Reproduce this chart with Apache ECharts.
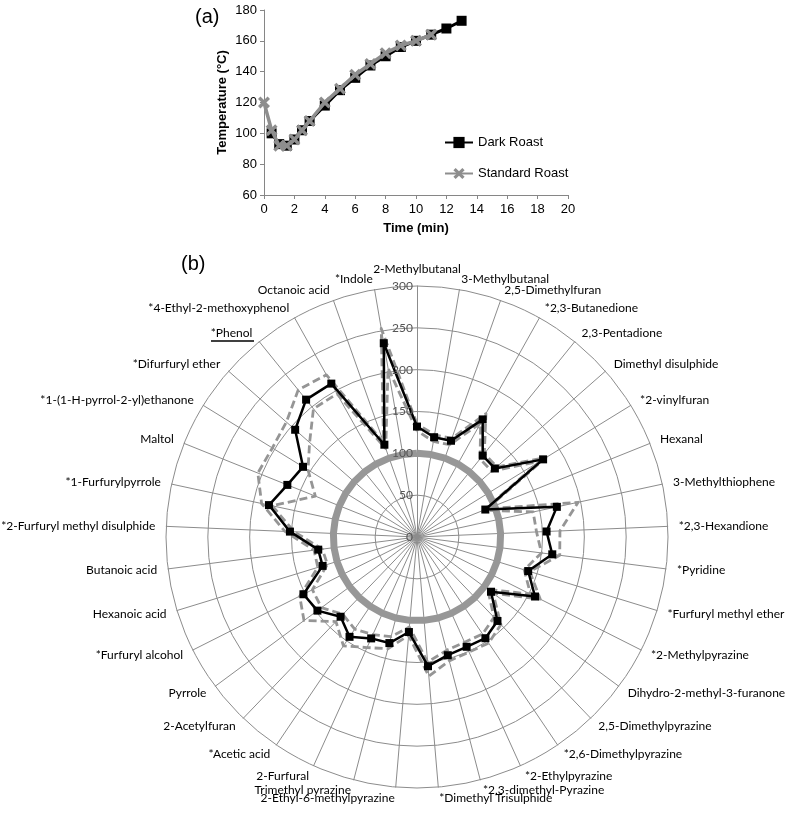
<!DOCTYPE html>
<html>
<head>
<meta charset="utf-8">
<script src="https://cdn.jsdelivr.net/npm/echarts@6/dist/echarts.min.js"></script>
<style>
html,body{margin:0;padding:0;background:#fff;}
#chart{width:785px;height:816px;}
</style>
</head>
<body>
<div id="chart"></div>
<script>
// ---- Panel (a): roasting temperature profiles ----
const darkTimes = [0.5, 1, 1.5, 2, 2.5, 3, 4, 5, 6, 7, 8, 9, 10, 11, 12, 13];
const darkTemps = [100, 93, 92, 96, 102, 108, 118, 128, 136, 144, 150, 156, 160, 164, 168, 173];
const stdTimes = [0, 0.5, 1, 1.5, 2, 2.5, 3, 4, 5, 6, 7, 8, 9, 10, 11];
const stdTemps = [120, 102, 92, 92, 96, 102, 108, 120, 129, 138, 145, 152, 157, 160, 164];
const xTicks = {min: 0, max: 20, step: 2};
const yTicks = {min: 60, max: 180, step: 20};

// ---- Panel (b): volatile compounds (clockwise from top) ----
const compounds = [
  "2-Methylbutanal", "3-Methylbutanal", "2,5-Dimethylfuran", "*2,3-Butanedione",
  "2,3-Pentadione", "Dimethyl disulphide", "*2-vinylfuran", "Hexanal",
  "3-Methylthiophene", "*2,3-Hexandione", "*Pyridine", "*Furfuryl methyl ether",
  "*2-Methylpyrazine", "Dihydro-2-methyl-3-furanone", "2,5-Dimethylpyrazine",
  "*2,6-Dimethylpyrazine", "*2-Ethylpyrazine", "*2,3-dimethyl-Pyrazine",
  "*Dimethyl Trisulphide", "2-Ethyl-6-methylpyrazine", "Trimethyl pyrazine",
  "2-Furfural", "*Acetic acid", "2-Acetylfuran", "Pyrrole", "*Furfuryl alcohol",
  "Hexanoic acid", "Butanoic acid", "*2-Furfuryl methyl disulphide",
  "*1-Furfurylpyrrole", "Maltol", "*1-(1-H-pyrrol-2-yl)ethanone",
  "*Difurfuryl ether", "*Phenol", "*4-Ethyl-2-methoxyphenol", "Octanoic acid", "*Indole"
];
const darkRoast = [132, 121, 122, 161, 125, 124, 177, 88, 171, 155, 163, 139, 158, 110, 139,
  146, 144, 146, 155, 114, 131, 133, 144, 132, 148, 152, 118, 119, 152, 181, 167, 160, 194,
  211, 210, 117, 235];
const upperBound = [135, 124, 125, 169, 128, 127, 181, 90, 197, 171, 172, 141, 165, 113, 145,
  153, 151, 153, 167, 118, 138, 145, 157, 140, 168, 157, 124, 124, 158, 190, 205, 203, 208,
  226, 222, 120, 253];
const lowerBound = [127, 116, 117, 156, 120, 119, 173, 86, 142, 143, 150, 134, 152, 105, 133,
  140, 138, 140, 150, 108, 123, 128, 133, 128, 142, 140, 112, 114, 147, 177, 131, 153, 171,
  197, 196, 112, 205];
const standardLevel = [100, 100, 100, 100, 100, 100, 100, 100, 100, 100, 100, 100, 100, 100,
  100, 100, 100, 100, 100, 100, 100, 100, 100, 100, 100, 100, 100, 100, 100, 100, 100, 100,
  100, 100, 100, 100, 100];
const radarScale = {min: 0, max: 300, step: 50};

// ECharts radar runs counter-clockwise; reorder so the picture reads clockwise.
const order = [0];
for (let i = compounds.length - 1; i >= 1; i--) order.push(i);
const ccw = arr => order.map(i => arr[i]);

const zip = (a, b) => a.map((v, i) => [v, b[i]]);
const xMark = 'path://M2,0 L5,3 L8,0 L10,2 L7,5 L10,8 L8,10 L5,7 L2,10 L0,8 L3,5 L0,2 Z';
const axisGray = '#868686';
const sans = 'Liberation Sans';
const labelFont = 'Lato';

const chart = echarts.init(document.getElementById('chart'));
chart.setOption({
  animation: false,
  backgroundColor: '#fff',
  title: [
    {text: '(a)', left: 190, top: 2, textStyle: {fontSize: 20, fontWeight: 'normal', fontFamily: sans, color: '#000'}},
    {text: '(b)', left: 176, top: 249, textStyle: {fontSize: 20, fontWeight: 'normal', fontFamily: sans, color: '#000'}}
  ],
  legend: {
    data: ['Dark Roast', 'Standard Roast'],
    orient: 'vertical', left: 444, top: 136, padding: 0, itemWidth: 28, itemHeight: 14, itemGap: 18,
    textStyle: {fontSize: 13, fontFamily: sans, color: '#000'}
  },
  grid: {left: 264, top: 10, width: 304, height: 185, containLabel: false},
  xAxis: {
    type: 'value', min: xTicks.min, max: xTicks.max, interval: xTicks.step,
    name: 'Time (min)', nameLocation: 'middle', nameGap: 27,
    nameTextStyle: {fontSize: 13, fontWeight: 'bold', fontFamily: sans, color: '#000'},
    axisLine: {lineStyle: {color: axisGray}},
    axisTick: {show: true, length: 4, lineStyle: {color: axisGray}},
    axisLabel: {fontSize: 13, fontFamily: sans, color: '#000', margin: 8},
    splitLine: {show: false}
  },
  yAxis: {
    type: 'value', min: yTicks.min, max: yTicks.max, interval: yTicks.step,
    name: 'Temperature (°C)', nameLocation: 'middle', nameGap: 35,
    nameTextStyle: {fontSize: 13, fontWeight: 'bold', fontFamily: sans, color: '#000'},
    axisLine: {show: true, lineStyle: {color: axisGray}},
    axisTick: {show: true, length: 4, lineStyle: {color: axisGray}},
    axisLabel: {fontSize: 13, fontFamily: sans, color: '#000', margin: 7},
    splitLine: {show: false}
  },
  radar: {
    center: [417, 537], radius: 251, startAngle: 90, shape: 'circle',
    splitNumber: (radarScale.max - radarScale.min) / radarScale.step,
    indicator: order.map(i => ({name: compounds[i], min: radarScale.min, max: radarScale.max})),
    nameGap: 11,
    axisName: {color: '#000', fontSize: 12, fontFamily: labelFont},
    axisLine: {lineStyle: {color: '#8c8c8c', width: 1}},
    splitLine: {lineStyle: {color: '#8c8c8c', width: 1}},
    splitArea: {show: false},
    axisTick: {show: false},
    axisLabel: {show: false}
  },
  polar: {center: [417, 537], radius: 251},
  angleAxis: {type: 'value', min: 0, max: 360, show: false},
  radiusAxis: {
    type: 'value', min: radarScale.min, max: radarScale.max, interval: radarScale.step,
    axisLine: {show: false}, axisTick: {show: false}, splitLine: {show: false},
    axisLabel: {show: true, color: '#555', fontSize: 12, fontFamily: labelFont, margin: 4},
    z: 10
  },
  graphic: [
    {type: 'line', shape: {x1: 211, y1: 341, x2: 254, y2: 341}, style: {stroke: '#000', lineWidth: 1.3}, silent: true}
  ],
  series: [
    {
      name: 'Dark Roast', type: 'line', data: zip(darkTimes, darkTemps),
      symbol: 'rect', symbolSize: 10, z: 3,
      itemStyle: {color: '#000'}, lineStyle: {color: '#000', width: 3}
    },
    {
      name: 'Standard Roast', type: 'line', data: zip(stdTimes, stdTemps),
      symbol: xMark, symbolSize: 12, z: 4,
      itemStyle: {color: '#8e8e8e'}, lineStyle: {color: '#8e8e8e', width: 3.5}
    },
    {
      name: 'ring', type: 'radar', silent: true, z: 2, symbol: 'none',
      lineStyle: {color: '#979797', width: 7},
      data: [{name: 'Standard level', value: ccw(standardLevel)}]
    },
    {
      name: 'bounds', type: 'radar', silent: true, z: 3, symbol: 'none',
      lineStyle: {color: '#959595', width: 2.8, type: [8, 4]},
      data: [
        {name: 'upper', value: ccw(upperBound)},
        {name: 'lower', value: ccw(lowerBound)}
      ]
    },
    {
      name: 'dark b', type: 'radar', silent: true, z: 4, symbol: 'rect', symbolSize: 8,
      itemStyle: {color: '#000'}, lineStyle: {color: '#000', width: 2.5},
      data: [{name: 'Dark roast (b)', value: ccw(darkRoast)}]
    }
  ]
});
</script>
</body>
</html>
